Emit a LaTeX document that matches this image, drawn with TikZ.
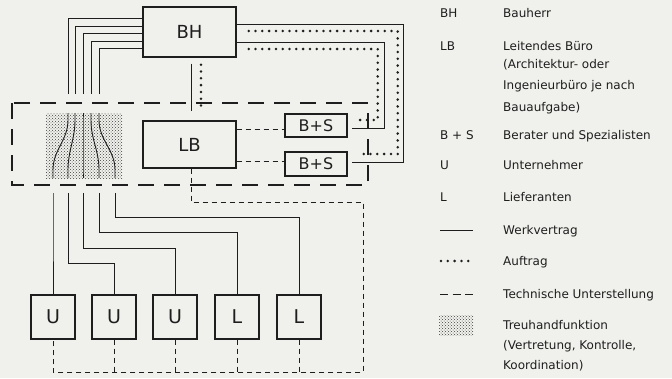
\documentclass[tikz,border=0pt]{standalone}
\usepackage{fontspec}
\setmainfont{DejaVu Sans}
\usetikzlibrary{patterns}
\definecolor{paper}{RGB}{240,240,236}
\definecolor{ink}{RGB}{30,30,30}
\tikzset{
  box/.style={draw=ink, line width=1.4pt, inner sep=0pt, text=ink},
  werk/.style={draw=ink, line width=0.9pt},
  auftrag/.style={draw=ink, line width=2.8pt, line cap=round, dash pattern=on 0pt off 6.8pt},
  tech/.style={draw=ink, line width=0.8pt, dash pattern=on 5pt off 4pt},
  lbgroup/.style={draw=ink, line width=2.2pt, dash pattern=on 16pt off 10pt},
  legtext/.style={anchor=base west, inner sep=0pt, font=\fontsize{12}{13}\selectfont, text=ink},
}
\begin{document}
\begin{tikzpicture}[x=1pt,y=-1pt]
  \fill[paper] (0,0) rectangle (672,378);
  \useasboundingbox (0,0) rectangle (672,378);
  % boxes
  \node[box, minimum width=93pt, minimum height=50pt, font=\fontsize{18}{18}\selectfont] (bh) at (189.5,32) {BH};
  \node[box, minimum width=93pt, minimum height=47pt, font=\fontsize{18}{18}\selectfont] (lb) at (189.5,144.5) {LB};
  \node[box, minimum width=62pt, minimum height=23pt, font=\fontsize{16}{16}\selectfont] (bsA) at (316,125.5) {B+S};
  \node[box, minimum width=62pt, minimum height=24pt, font=\fontsize{16}{16}\selectfont] (bsB) at (316,164) {B+S};
  \foreach \n/\xx/\t in {u1/53/U,u2/114/U,u3/175/U,l1/237/L,l2/299/L}
    \node[box, minimum size=44pt, font=\fontsize{19}{19}\selectfont] (\n) at (\xx,317) {\t};
  % LB group and trust function
  \draw[lbgroup] (12,103) rectangle (368,185);
  \fill[pattern=crosshatch dots, pattern color=ink!85] (46,113) rectangle (122,178);
  % Werkvertrag BH -> U / L
  \foreach \ys/\xt/\xb/\yr/\bx in {14/68/53/230/u1, 6/75/68/263/u2, -1/83/83/248/u3, -9/91/99/232/l1, -16/99/115/217/l2}{
    \draw[werk] ([yshift=\ys pt]bh.west) -| (\xt,94);
    \draw[werk] (\xt,113) -- (\xt,120) to[out=-90,in=90] (\xb,170) -- (\xb,178);
    \draw[werk] (\xb,193) -- (\xb,\yr) -| (\bx.north);
  }
  % BH -> B+S
  \draw[werk, shorten >=4pt] ([yshift=8pt]bh.east) -- ++(167,0) |- ([yshift=2pt]bsB.east);
  \draw[werk, shorten >=4pt] ([yshift=-10pt]bh.east) -- ++(148,0) |- ([yshift=-2.5pt]bsA.east);
  \draw[auftrag, shorten <=12pt, shorten >=10pt] ([yshift=1pt]bh.east) -- ++(161,0) |- ([yshift=10pt]bsB.east);
  \draw[auftrag, shorten <=12pt, shorten >=12pt] ([yshift=-17pt]bh.east) -- ++(141,0) |- ([yshift=5.5pt]bsA.east);
  % BH -> LB
  \draw[werk, shorten <=6pt, shorten >=9pt] ([xshift=1.5pt]bh.south) -- ([xshift=1.5pt]lb.north);
  \draw[auftrag, shorten <=7pt, shorten >=9pt] ([xshift=11.5pt]bh.south) -- ([xshift=11.5pt]lb.north);
  % technische Unterstellung
  \draw[tech] ([yshift=15.5pt]lb.east) -- ([yshift=-3.5pt]bsA.west);
  \draw[tech] ([yshift=-16.5pt]lb.east) -- ([yshift=3pt]bsB.west);
  \coordinate (tc) at (363,202);
  \coordinate (tb) at (363,372);
  \draw[tech] ([xshift=1.5pt]lb.south) |- (tc) -- (tb) -- (u1 |- tb) -- (u1.south);
  \foreach \n in {u2,u3,l1,l2}
    \draw[tech] (\n.south) -- (\n |- tb);
  % legend
  \foreach \nm/\yy/\t in {kBH/17/BH, kLB/50/LB, kBS/139/{B + S}, kU/169/U, kL/201/L}
    \node[legtext] (\nm) at (440,\yy) {\t};
  \foreach \nm/\yy/\t in {tBH/17/Bauherr, tLB1/50/{Leitendes Büro}, tLB2/68/{(Architektur- oder}, tLB3/89/{Ingenieurbüro je nach},
      tLB4/111/{Bauaufgabe)}, tBS/139/{Berater und Spezialisten}, tU/169/Unternehmer, tL/201/Lieferanten,
      tW/234/Werkvertrag, tA/265/Auftrag, tT/298/{Technische Unterstellung}, tH1/329/Treuhandfunktion,
      tH2/349/{(Vertretung, Kontrolle,}, tH3/369/{Koordination)}}
    \node[legtext] (\nm) at (503,\yy) {\t};
  \draw[werk] (440,230) -- (473,230);
  \draw[auftrag] (441,261) -- (472,261);
  \draw[tech, dash pattern=on 8pt off 4.5pt] (440,294) -- (473,294);
  \fill[pattern=crosshatch dots, pattern color=ink!85] (439,315) rectangle (473,335);
\end{tikzpicture}
\end{document}
